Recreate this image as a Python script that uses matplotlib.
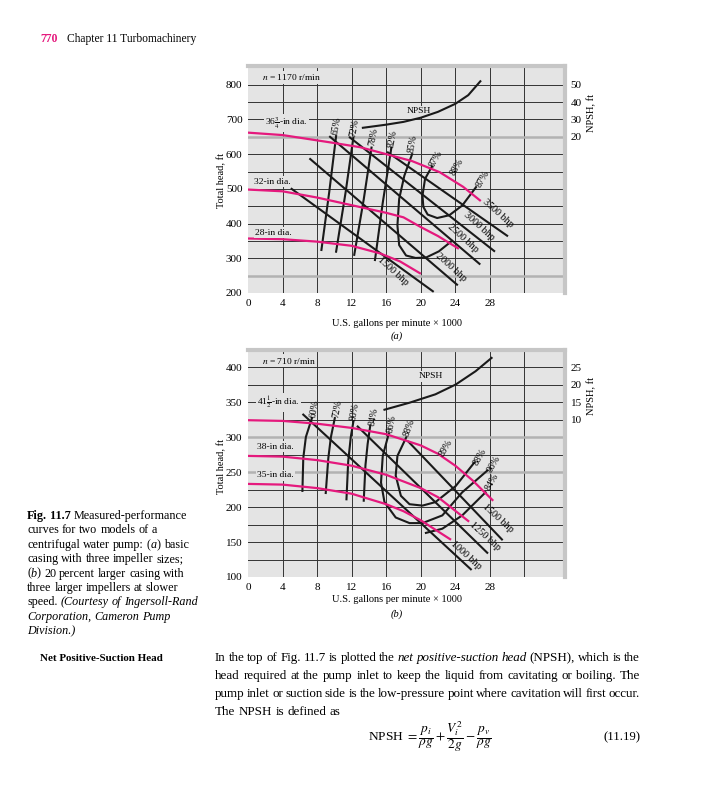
import matplotlib
matplotlib.use("Agg")
import matplotlib.pyplot as plt

plt.rcParams['font.family'] = ['Liberation Serif', 'DejaVu Serif']
plt.rcParams['mathtext.fontset'] = 'stix'

# ---- panel (a): n = 1170 r/min ----
a_dia_labels = ['36$\\frac{3}{4}$-in dia.', '32-in dia.', '28-in dia.']
a_head_q = [
    [0, 4, 9.5, 13, 16, 19, 22.2, 24.9, 26.85],
    [0, 4, 8, 12, 16, 18, 20, 22, 24.3],
    [0, 4, 8, 12, 15.3, 17.6, 19.9],
]
a_head_h = [
    [662, 655, 634, 620, 600, 580, 548, 506, 467],
    [498, 493, 475, 453, 431, 418, 390, 364, 329],
    [357, 355, 348, 336, 314, 291, 257],
]
a_eff = ['65%', '72%', '78%', '82%', '85%', '87%']
a_eff_q = [
    [8.5, 9.4, 10.2],
    [10.2, 11.3, 12.2],
    [12.3, 13.4, 14.3],
    [14.7, 15.6, 16.6],
    [19.0, 18.1, 17.5, 17.3, 17.5, 18.3, 19.4, 20.6, 22.1, 23.6],
    [21.3, 20.5, 20.2, 20.3, 20.8, 21.9, 23.3, 24.8, 26.4],
]
a_eff_h = [
    [324, 490, 652],
    [319, 490, 648],
    [310, 470, 619],
    [295, 460, 619],
    [600, 538, 471, 395, 338, 308, 301, 302, 320, 350],
    [565, 529, 481, 448, 426, 416, 424, 452, 505],
]
a_bhp = [1500, 2000, 2500, 3000, 3500]
a_bhp_q = [[5.05, 21.4], [7.2, 24.2], [9.5, 26.8], [11.8, 28.5], [16.2, 30.0]]
a_bhp_h = [[500, 205], [586, 224], [650, 284], [648, 321], [605, 365]]
a_npsh_q = [13.3, 16, 18, 20, 22, 24, 25.5, 26.9]
a_npsh_ft = [25.2, 27, 28.6, 31, 34.4, 39, 44, 52]

# ---- panel (b): n = 710 r/min ----
b_dia_labels = ['41$\\frac{1}{2}$-in dia.', '38-in dia.', '35-in dia.']
b_head_q = [
    [0, 4, 8, 12, 16, 20, 22, 24, 26, 28.3],
    [0, 4, 8, 12, 16, 20, 22, 25.5],
    [0, 4, 8, 12, 16, 18, 20, 23.4],
]
b_head_h = [
    [324, 323, 319, 313, 304, 288, 276, 259, 238, 210],
    [273, 272, 267, 259, 246, 227, 214, 180],
    [233, 232, 227, 219, 204, 194, 181, 154],
]
b_eff = ['60%', '72%', '80%', '84%', '86%', '88%', '84%']
b_eff_q = [
    [6.3, 6.4, 6.7, 7.4],
    [9.0, 9.3, 9.6, 10.05],
    [11.4, 11.6, 11.9, 12.2],
    [13.4, 13.6, 13.85, 14.15],
    [16.3, 15.6, 15.4, 15.8, 17.1, 18.7, 20.2, 22.5, 24.8, 27.7],
    [18.3, 17.3, 17.1, 17.7, 18.7, 20.2, 21.7, 24.05, 26.2],
    [20.6, 22.5, 24.8, 27.5],
]
b_eff_h = [
    [223, 270, 300, 327],
    [220, 270, 300, 327],
    [211, 265, 300, 322],
    [209, 260, 290, 316],
    [305, 273, 235, 207, 185, 177, 177, 188, 221, 252],
    [299, 273, 245, 216, 204, 202, 207, 230, 263.5],
    [163, 169, 188, 221],
]
b_bhp = [1000, 1250, 1500]
b_bhp_q = [[6.4, 25.8], [12.7, 27.7], [18.6, 29.4]]
b_bhp_h = [[332, 111], [315, 134.6], [293, 153.6]]
b_npsh_q = [15.8, 18.7, 21.7, 24.05, 26.35, 28.2]
b_npsh_ft = [12.8, 14.8, 17.2, 20, 23.8, 27.6]

PINK = '#e5197d'
BG = '#e4e4e4'
W, H = 705, 800

fig = plt.figure(figsize=(7.05, 8), dpi=100)


def fx(px):
    return px / W


def fy(py):
    return 1 - py / H


def setup(ax, ylim, ystep, light, yticks, npsh_lim, npsh_ticks):
    ax.set_xlim(0, 36.7)
    ax.set_ylim(*ylim)
    ax.set_facecolor(BG)
    for s in ['left', 'bottom']:
        ax.spines[s].set_visible(False)
    for s in ['top', 'right']:
        ax.spines[s].set_color('#c6c6c6')
        ax.spines[s].set_linewidth(3)
    for q in range(4, 33, 4):
        ax.axvline(q, color='#333333', lw=0.7, zorder=0.5)
    h = ylim[0] + ystep
    while h < ylim[1]:
        if h in light:
            ax.axhline(h, color='#b2b2b2', lw=1.8, zorder=0.5)
        else:
            ax.axhline(h, color='#333333', lw=0.7, zorder=0.5)
        h += ystep
    ax.set_xticks(range(0, 29, 4))
    ax.set_yticks(yticks)
    ax.tick_params(length=0, labelsize=8, pad=4)
    tw = ax.twinx()
    tw.set_ylim(*npsh_lim)
    tw.set_yticks(npsh_ticks)
    tw.tick_params(length=0, labelsize=8, pad=4)
    for s in tw.spines.values():
        s.set_visible(False)
    return tw


BOX = dict(facecolor=BG, edgecolor='none', pad=1)


def draw(ax, tw, head_q, head_h, dia_labels, dia_pos, eff_q, eff_h, eff,
         eff_off, bhp_q, bhp_h, bhp, bhp_pos, npsh_q, npsh_ft, npsh_pos,
         speed, speed_pos, extra):
    for q, h in zip(head_q, head_h):
        ax.plot(q, h, color=PINK, lw=1.6, zorder=3)
    for lab, (x, y) in zip(dia_labels, dia_pos):
        ax.text(x, y, lab, fontsize=6.8, ha='left', va='center', zorder=4,
                bbox=BOX)
    for q, h in zip(eff_q, eff_h):
        ax.plot(q, h, color='#1a1a1a', lw=1.5, zorder=2)
    for q, h, lab, (dx, dy, rot, which) in zip(eff_q, eff_h, eff, eff_off):
        ax.text(q[which] + dx, h[which] + dy, lab, fontsize=7, rotation=rot,
                ha='center', va='center', zorder=4)
    for q, h in zip(bhp_q, bhp_h):
        ax.plot(q, h, color='#1a1a1a', lw=1.5, zorder=2)
    for b, (x, y) in zip(bhp, bhp_pos):
        ax.text(x, y, f'{b} bhp', fontsize=7.3, rotation=-42,
                ha='center', va='center', zorder=4)
    tw.plot(npsh_q, npsh_ft, color='#1a1a1a', lw=1.5)
    ax.text(npsh_pos[0], npsh_pos[1], 'NPSH', fontsize=6.8, ha='center',
            va='center', bbox=BOX, zorder=4)
    ax.text(speed_pos[0], speed_pos[1], speed, fontsize=6.8, ha='left',
            va='center', bbox=BOX, zorder=4)
    for lab, x, y, rot in extra:
        ax.text(x, y, lab, fontsize=7, rotation=rot, ha='center',
                va='center', zorder=4)


# panel (a)
ax_a = fig.add_axes([fx(248), fy(293), fx(565) - fx(248), fy(66) - fy(293)])
tw_a = setup(ax_a, (200, 854), 50, [650, 250], range(200, 801, 100),
             (-70, 60.8), [20, 30, 40, 50])
draw(ax_a, tw_a, a_head_q, a_head_h, a_dia_labels,
     [(2.0, 690), (0.65, 521), (0.85, 374)],
     a_eff_q, a_eff_h, a_eff,
     [(0.1, 30, 80, -1), (0.1, 29, 80, -1), (0.2, 30, 80, -1),
      (0.1, 25, 80, -1), (0.1, 30, 80, 0), (0.5, 22, 60, 0)],
     a_bhp_q, a_bhp_h, a_bhp,
     [(16.8, 262), (23.5, 274), (24.9, 358), (26.7, 392), (28.9, 431)],
     a_npsh_q, a_npsh_ft, (19.8, 724), '$n$ = 1170 r/min', (1.6, 822),
     [('88%', 24.2, 562, 60), ('87%', 27.2, 528, 60)])

# panel (b)
ax_b = fig.add_axes([fx(248), fy(577), fx(565) - fx(248), fy(350) - fy(577)])
tw_b = setup(ax_b, (100, 424.3), 25, [300, 250], range(100, 401, 50),
             (-35, 29.86), [10, 15, 20, 25])
draw(ax_b, tw_b, b_head_q, b_head_h, b_dia_labels,
     [(1.05, 349), (1.05, 286), (1.05, 245.5)],
     b_eff_q, b_eff_h, b_eff,
     [(0.35, 13, 80, -1), (0.35, 13, 80, -1), (0.15, 13.5, 80, -1),
      (0.35, 12.5, 80, -1), (0.3, 14, 80, 0), (0.4, 15, 70, 0),
      (0.8, 15, 60, -1)],
     b_bhp_q, b_bhp_h, b_bhp,
     [(25.3, 131), (27.4, 157.6), (29.0, 184)],
     b_npsh_q, b_npsh_ft, (21.2, 387), '$n$ = 710 r/min', (1.6, 409),
     [('89%', 22.9, 285, 60), ('88%', 26.8, 271, 60), ('86%', 28.5, 262, 60)])

# axis labels
for cy, xl_y, tag_y, tag, npsh_y in [(180, 323, 336, '(a)', 113),
                                     (466, 600, 614, '(b)', 396)]:
    fig.text(fx(222), fy(cy), 'Total head, ft', rotation=90, fontsize=7.5,
             ha='center', va='center')
    fig.text(fx(397), fy(xl_y), 'U.S. gallons per minute \u00d7 1000',
             fontsize=7.5, ha='center', va='center')
    fig.text(fx(397), fy(tag_y), tag, fontsize=7.5, style='italic',
             ha='center', va='center')
    fig.text(fx(592), fy(npsh_y), 'NPSH, ft', rotation=90, fontsize=7.5,
             ha='center', va='center')

renderer = fig.canvas.get_renderer()


def put_line(px, py, runs, size, width=None):
    # place words one by one so styles can mix and lines can be justified
    tokens = []
    pending = False
    for text, st in runs:
        parts = text.split(' ')
        for i, p in enumerate(parts):
            if i > 0:
                pending = True
            if p:
                tokens.append([p, st, pending and bool(tokens)])
                pending = False
    objs = []
    for p, st, sp in tokens:
        kw = {}
        if 'b' in st:
            kw['fontweight'] = 'bold'
        if 'i' in st:
            kw['style'] = 'italic'
        t = fig.text(0, 0, p, fontsize=size, va='baseline', ha='left', **kw)
        objs.append((t, t.get_window_extent(renderer).width, sp))
    nsp = sum(1 for o in objs if o[2])
    space = 0.25 * size * 100 / 72
    if width is not None and nsp:
        space = (width - sum(o[1] for o in objs)) / nsp
    x = px
    for t, w, sp in objs:
        if sp:
            x += space
        t.set_position((fx(x), fy(py)))
        x += w


# page header
fig.text(fx(40), fy(42), '770', color=PINK, fontweight='bold', fontsize=8.5)
fig.text(fx(67), fy(42), 'Chapter 11 Turbomachinery', fontsize=8.3)

# caption
caption = [
    [('Fig. 11.7', 'b'), (' Measured-performance', '')],
    [('curves for two models of a', '')],
    [('centrifugal water pump: (', ''), ('a', 'i'), (') basic', '')],
    [('casing with three impeller sizes;', '')],
    [('(', ''), ('b', 'i'), (') 20 percent larger casing with', '')],
    [('three larger impellers at slower', '')],
    [('speed. ', ''), ('(Courtesy of Ingersoll-Rand', 'i')],
    [('Corporation, Cameron Pump', 'i')],
    [('Division.)', 'i')],
]
for i, runs in enumerate(caption):
    put_line(27, 519 + i * 14.4, runs, 8.7)

# body text
fig.text(fx(40), fy(661), 'Net Positive-Suction Head', fontweight='bold',
         fontsize=7.9)
body = [
    [('In the top of Fig. 11.7 is plotted the ', ''),
     ('net positive-suction head', 'i'), (' (NPSH), which is the', '')],
    [('head required at the pump inlet to keep the liquid from cavitating '
      'or boiling. The', '')],
    [('pump inlet or suction side is the low-pressure point where '
      'cavitation will first occur.', '')],
    [('The NPSH is defined as', '')],
]
for i, runs in enumerate(body):
    put_line(215, 661 + i * 18, runs, 9.4, 425 if i < 3 else None)

fig.text(fx(368), fy(737),
         r'NPSH $=\dfrac{p_i}{\rho g}+\dfrac{V_i^2}{2g}-\dfrac{p_v}{\rho g}$',
         fontsize=9.6, va='center', ha='left')
fig.text(fx(640), fy(737), '(11.19)', fontsize=9.2, va='center', ha='right')

fig.savefig('out.png', dpi=100)
